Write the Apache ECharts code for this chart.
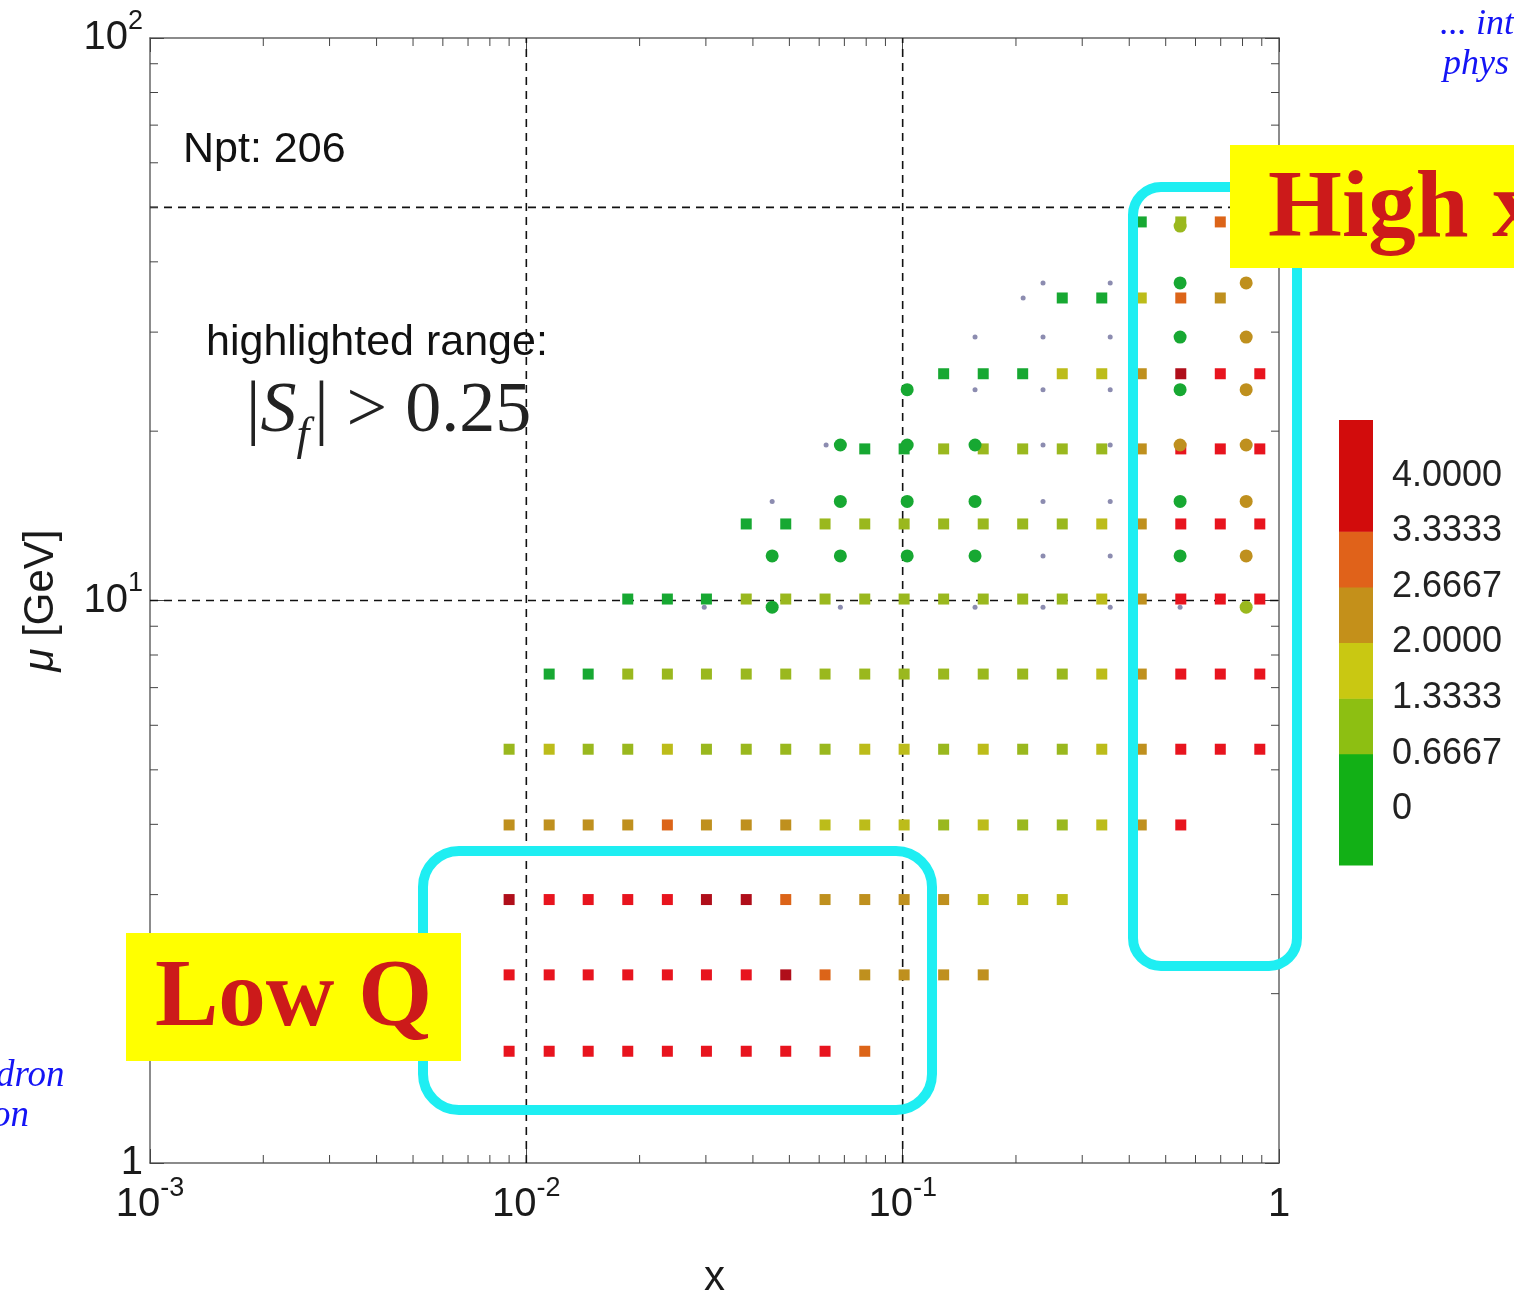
<!DOCTYPE html>
<html><head><meta charset="utf-8">
<script src="https://cdn.jsdelivr.net/npm/echarts@6/dist/echarts.min.js"></script>
<style>html,body{margin:0;padding:0;background:#fff}#c{width:1514px;height:1292px}</style>
</head><body><div id="c"></div>
<script>
const _ = null;
// ---- axis ranges and tick values ----
const xRange = [0.001, 1];
const yRange = [1, 100];
const xMinorTicks = [0.002,0.003,0.004,0.005,0.006,0.007,0.008,0.009,0.02,0.03,0.04,0.05,0.06,0.07,0.08,0.09,0.2,0.3,0.4,0.5,0.6,0.7,0.8,0.9];
const yMinorTicks = [2,3,4,5,6,7,8,9,20,30,40,50,60,70,80,90];
const refLinesX = [0.01, 0.1];
const refLinesY = [10, 50];
// ---- square markers: x columns, mu rows, values (S_f colour value) ----
const xCols = [0.0090,0.0115,0.0146,0.0186,0.0237,0.0301,0.0384,0.0489,0.0622,0.0793,0.1009,0.1285,0.1637,0.2084,0.2655,0.3381,0.4305,0.5483,0.6982,0.8892];
const muRows = [1.58,2.16,2.94,3.99,5.44,7.40,10.06,13.68,18.6,25.3,34.5,47.1];
const sqRow1  = [3.9,4.0,4.1,4.0,3.9,4.0,4.1,3.9,4.0,3.0,_,_,_,_,_,_,_,_,_,_];
const sqRow2  = [4.0,4.1,3.9,4.0,4.2,4.0,3.9,4.9,3.0,2.3,2.2,2.4,2.3,_,_,_,_,_,_,_];
const sqRow3  = [4.8,4.1,4.0,4.2,4.0,4.8,4.9,3.0,2.4,2.3,2.2,2.4,1.8,1.7,1.6,_,_,_,_,_];
const sqRow4  = [2.3,2.4,2.3,2.5,2.9,2.4,2.3,2.4,1.7,1.6,1.7,1.1,1.6,1.0,1.1,1.5,2.3,4.0,_,_];
const sqRow5  = [1.0,1.4,1.1,1.2,1.5,1.1,1.2,1.1,1.2,1.5,1.6,1.1,1.5,1.0,1.1,1.5,2.3,4.0,4.1,4.0];
const sqRow6  = [_,0.3,0.2,1.1,1.2,1.1,1.0,1.2,1.1,1.2,1.3,1.1,1.2,1.0,1.1,1.5,2.4,4.0,4.1,4.0];
const sqRow7  = [_,_,_,0.3,0.2,0.3,1.1,1.2,1.2,1.1,1.3,1.2,1.1,1.2,1.1,1.5,2.6,4.0,4.1,4.0];
const sqRow8  = [_,_,_,_,_,_,0.3,0.2,1.1,1.2,1.2,1.1,1.2,1.0,1.1,1.5,2.4,4.0,4.1,4.0];
const sqRow9  = [_,_,_,_,_,_,_,_,_,0.3,0.2,1.1,1.2,1.1,1.2,1.2,2.3,4.0,4.1,4.0];
const sqRow10 = [_,_,_,_,_,_,_,_,_,_,_,0.2,0.3,0.2,1.6,1.5,2.3,4.9,4.0,4.1];
const sqRow11 = [_,_,_,_,_,_,_,_,_,_,_,_,_,_,0.2,0.3,1.6,3.0,2.3,_];
const sqRow12 = [_,_,_,_,_,_,_,_,_,_,_,_,_,_,_,_,0.3,0.9,3.0,_];
const sqRows = [sqRow1,sqRow2,sqRow3,sqRow4,sqRow5,sqRow6,sqRow7,sqRow8,sqRow9,sqRow10,sqRow11,sqRow12];
// ---- circle markers ----
const circX = [0.0297,0.045,0.0683,0.1028,0.1557,0.236,0.356,0.546,0.818];
const circMu = [9.73,12.0,15.0,18.9,23.7,29.4,36.7,46.3];
const cRow1 = [_,0.2,_,_,_,_,_,_,0.9];
const cRow2 = [_,0.2,0.3,0.2,0.3,_,_,0.2,2.3];
const cRow3 = [_,_,0.2,0.3,0.2,_,_,0.3,2.3];
const cRow4 = [_,_,0.3,0.2,0.3,_,_,2.6,2.3];
const cRow5 = [_,_,_,0.3,_,_,_,0.2,2.3];
const cRow6 = [_,_,_,_,_,_,_,0.2,2.3];
const cRow7 = [_,_,_,_,_,_,_,0.3,2.3];
const cRow8 = [_,_,_,_,_,_,_,0.9,_];
const cRows = [cRow1,cRow2,cRow3,cRow4,cRow5,cRow6,cRow7,cRow8];
// ---- small grey points (outside highlighted range) ----
const grayMu = [9.73,12.0,15.0,18.9,23.7,29.4,36.7,34.5];
const gRow1 = [0.0297,0.0683,0.1557,0.236,0.356,0.546];
const gRow2 = [0.236,0.356];
const gRow3 = [0.045,0.236,0.356];
const gRow4 = [0.0626,0.236,0.356];
const gRow5 = [0.1557,0.236,0.356];
const gRow6 = [0.1557,0.236,0.356];
const gRow7 = [0.236,0.356];
const gRow8 = [0.209];
const gRows = [gRow1,gRow2,gRow3,gRow4,gRow5,gRow6,gRow7,gRow8];
// ---- colour bar ----
const cbBounds = [-2/3, 2/3, 4/3, 2, 8/3, 10/3, 14/3];
const cbRange = [-2/3, 14/3];
const cbStep = 2/3;

// ---- styles ----
const SANS = '"Liberation Sans", Arial, Helvetica, sans-serif';
const SERIF = '"Liberation Serif", "Times New Roman", serif';
const cbColors = ['#12b016','#8dbf12','#c9c812','#c4901a','#e0621a','#d20c0c'];
const ptPieces = [
  {lt: 2/3, color: '#17a832'},
  {gte: 2/3, lt: 4/3, color: '#9ab81e'},
  {gte: 4/3, lt: 2, color: '#bcbc1a'},
  {gte: 2, lt: 8/3, color: '#bf901e'},
  {gte: 8/3, lt: 10/3, color: '#dc6418'},
  {gte: 10/3, lt: 14/3, color: '#e8141e'},
  {gte: 14/3, color: '#b00e1a'}
];

const sqData = [];
sqRows.forEach((row, r) => row.forEach((v, i) => { if (v !== null) sqData.push([xCols[i], muRows[r], v]); }));
const cData = [];
cRows.forEach((row, r) => row.forEach((v, i) => { if (v !== null) cData.push([circX[i], circMu[r], v]); }));
const gData = [];
gRows.forEach((row, r) => row.forEach(x => gData.push([x, grayMu[r]])));

function logLabel(v) {
  const e = Math.round(Math.log10(v));
  return e === 0 ? '{b|1}' : '{b|10}{s|' + e + '}';
}
const labRich = {
  b: {fontSize: 40, lineHeight: 60, fontFamily: SANS, color: '#1a1a1a'},
  s: {fontSize: 27, lineHeight: 30, fontFamily: SANS, color: '#1a1a1a', verticalAlign: 'top'}
};
const frameLine = {show: true, lineStyle: {color: '#666', width: 1.5}};
const majorTick = {show: true, inside: true, length: 14, lineStyle: {color: '#444', width: 1}};

const dashStyle = {color: '#111', width: 1.6, type: [8, 6]};
const refSeries = [];
refLinesX.forEach(x => refSeries.push({type: 'line', xAxisIndex: 0, yAxisIndex: 0, symbol: 'none', silent: true,
  data: [[x, yRange[0]], [x, yRange[1]]], lineStyle: dashStyle, z: 1}));
refLinesY.forEach(y => refSeries.push({type: 'line', xAxisIndex: 0, yAxisIndex: 0, symbol: 'none', silent: true,
  data: [[xRange[0], y], [xRange[1], y]], lineStyle: dashStyle, z: 1}));

const minorLen = 8;
const tickStyle = {stroke: '#444', lineWidth: 1};

const option = {
  animation: false,
  backgroundColor: '#fff',
  grid: [
    {left: 150, right: 235, top: 38, bottom: 129, containLabel: false, outerBoundsMode: 'none'},
    {left: 1339, top: 420, width: 34, height: 445, containLabel: false, outerBoundsMode: 'none'}
  ],
  xAxis: [
    {type: 'log', logBase: 10, gridIndex: 0, min: xRange[0], max: xRange[1], position: 'bottom',
     axisLine: frameLine, axisTick: majorTick, splitLine: {show: false},
     axisLabel: {formatter: logLabel, rich: labRich, margin: 12, showMinLabel: true, showMaxLabel: true},
     name: 'x', nameLocation: 'middle', nameGap: 94,
     nameTextStyle: {fontSize: 42, fontFamily: SANS, color: '#1a1a1a'}},
    {type: 'log', logBase: 10, gridIndex: 0, min: xRange[0], max: xRange[1], position: 'top',
     axisLine: frameLine, axisTick: majorTick, splitLine: {show: false}, axisLabel: {show: false}},
    {type: 'value', gridIndex: 1, min: 0, max: 1, show: false}
  ],
  yAxis: [
    {type: 'log', logBase: 10, gridIndex: 0, min: yRange[0], max: yRange[1], position: 'left',
     axisLine: frameLine, axisTick: majorTick, splitLine: {show: false},
     axisLabel: {formatter: logLabel, rich: labRich, margin: 7, showMinLabel: true, showMaxLabel: true},
     name: '{i|μ} [GeV]', nameLocation: 'middle', nameGap: 88, nameRotate: 90,
     nameTextStyle: {fontSize: 42, fontFamily: SANS, color: '#1a1a1a',
       rich: {i: {fontSize: 42, fontFamily: SANS, fontStyle: 'italic', color: '#1a1a1a'}}}},
    {type: 'log', logBase: 10, gridIndex: 0, min: yRange[0], max: yRange[1], position: 'right',
     axisLine: frameLine, axisTick: majorTick, splitLine: {show: false}, axisLabel: {show: false}},
    {type: 'value', gridIndex: 1, position: 'right', min: cbRange[0], max: cbRange[1], interval: cbStep,
     axisLine: {show: false}, axisTick: {show: false}, splitLine: {show: false},
     axisLabel: {margin: 19, fontSize: 36, fontFamily: SANS, color: '#222', showMinLabel: true, showMaxLabel: true,
       formatter: v => (v < -0.1 || v > 4.5) ? '' : (Math.abs(v) < 1e-6 ? '0' : v.toFixed(4))}}
  ],
  visualMap: [{type: 'piecewise', show: false, seriesIndex: [refSeries.length + 2, refSeries.length + 3], dimension: 2, pieces: ptPieces}],
  series: [
    ...refSeries,
    {type: 'custom', xAxisIndex: 0, yAxisIndex: 0, silent: true, z: 3,
     data: xMinorTicks.map(v => [v, yRange[0]]), encode: {x: 0, y: 1},
     renderItem: (p, api) => {
       const v = api.value(0);
       const b = api.coord([v, yRange[0]]), t = api.coord([v, yRange[1]]);
       return {type: 'group', children: [
         {type: 'line', shape: {x1: b[0], y1: b[1], x2: b[0], y2: b[1] - minorLen}, style: tickStyle},
         {type: 'line', shape: {x1: t[0], y1: t[1], x2: t[0], y2: t[1] + minorLen}, style: tickStyle}]};
     }},
    {type: 'custom', xAxisIndex: 0, yAxisIndex: 0, silent: true, z: 3,
     data: yMinorTicks.map(v => [xRange[0], v]), encode: {x: 0, y: 1},
     renderItem: (p, api) => {
       const v = api.value(1);
       const l = api.coord([xRange[0], v]), r = api.coord([xRange[1], v]);
       return {type: 'group', children: [
         {type: 'line', shape: {x1: l[0], y1: l[1], x2: l[0] + minorLen, y2: l[1]}, style: tickStyle},
         {type: 'line', shape: {x1: r[0], y1: r[1], x2: r[0] - minorLen, y2: r[1]}, style: tickStyle}]};
     }},
    {type: 'scatter', xAxisIndex: 0, yAxisIndex: 0, symbol: 'rect', symbolSize: 11, data: sqData, z: 5,
     itemStyle: {opacity: 1}},
    {type: 'scatter', xAxisIndex: 0, yAxisIndex: 0, symbol: 'circle', symbolSize: 13, data: cData, z: 6,
     itemStyle: {opacity: 1}},
    {type: 'scatter', xAxisIndex: 0, yAxisIndex: 0, symbol: 'circle', symbolSize: 5, data: gData, z: 6,
     itemStyle: {color: '#8c8cb0', opacity: 1}},
    {type: 'custom', xAxisIndex: 2, yAxisIndex: 2, silent: true,
     data: cbBounds.slice(0, -1).map((lo, k) => [0, lo, cbBounds[k + 1], k]), encode: {x: 0, y: [1, 2]},
     renderItem: (p, api) => {
       const lo = api.value(1), hi = api.value(2), k = api.value(3);
       const p0 = api.coord([0, hi]), p1 = api.coord([1, lo]);
       return {type: 'rect', shape: {x: p0[0], y: p0[1], width: p1[0] - p0[0], height: p1[1] - p0[1] + 0.5},
         style: {fill: cbColors[k]}};
     }}
  ],
  graphic: [
    {type: 'text', x: 183, y: 150, z: 50, style: {text: 'Npt: 206', font: '43px ' + SANS, fill: '#111', verticalAlign: 'middle'}},
    {type: 'text', x: 206, y: 343, z: 50, style: {text: 'highlighted range:', font: '43px ' + SANS, fill: '#111', verticalAlign: 'middle'}},
    {type: 'text', x: 246, y: 412, z: 50, style: {
      text: '{n||}{i|S}{f|f}{n|| > 0.25}', verticalAlign: 'middle', fill: '#222',
      rich: {
        n: {fontSize: 72, fontFamily: SERIF, lineHeight: 72, verticalAlign: 'top', fill: '#222'},
        i: {fontSize: 72, fontFamily: SERIF, fontStyle: 'italic', lineHeight: 72, verticalAlign: 'top', fill: '#222'},
        f: {fontSize: 46, fontFamily: SERIF, fontStyle: 'italic', lineHeight: 46, padding: [38, 5, 0, 0], verticalAlign: 'top', fill: '#222'}
      }}},
    {type: 'rect', z: 90, shape: {x: 423, y: 851, width: 509, height: 259, r: 36},
     style: {fill: 'none', stroke: '#1eeef2', lineWidth: 10}},
    {type: 'rect', z: 90, shape: {x: 1133, y: 187, width: 164, height: 779, r: 28},
     style: {fill: 'none', stroke: '#1eeef2', lineWidth: 10}},
    {type: 'rect', z: 95, shape: {x: 126, y: 933, width: 335, height: 128}, style: {fill: '#ffff00'}},
    {type: 'text', x: 155, y: 1000, z: 96, style: {text: 'Low Q', font: 'bold 95px ' + SERIF, fill: '#cc1a1a', verticalAlign: 'middle'}},
    {type: 'rect', z: 95, shape: {x: 1230, y: 145, width: 290, height: 123}, style: {fill: '#ffff00'}},
    {type: 'text', x: 1268, y: 211, z: 96, style: {text: 'High x', font: 'bold 95px ' + SERIF, fill: '#cc1a1a', verticalAlign: 'middle'}},
    {type: 'text', x: 1440, y: 25, z: 96, style: {text: '... int', font: 'italic 36px ' + SERIF, fill: '#1414f5', verticalAlign: 'middle'}},
    {type: 'text', x: 1443, y: 65, z: 96, style: {text: 'phys', font: 'italic 36px ' + SERIF, fill: '#1414f5', verticalAlign: 'middle'}},
    {type: 'text', x: -4, y: 1076, z: 96, style: {text: 'dron', font: 'italic 37px ' + SERIF, fill: '#1414f5', verticalAlign: 'middle'}},
    {type: 'text', x: -8, y: 1116, z: 96, style: {text: 'on', font: 'italic 37px ' + SERIF, fill: '#1414f5', verticalAlign: 'middle'}}
  ]
};
const chart = echarts.init(document.getElementById('c'));
chart.setOption(option);
</script>
</body></html>
